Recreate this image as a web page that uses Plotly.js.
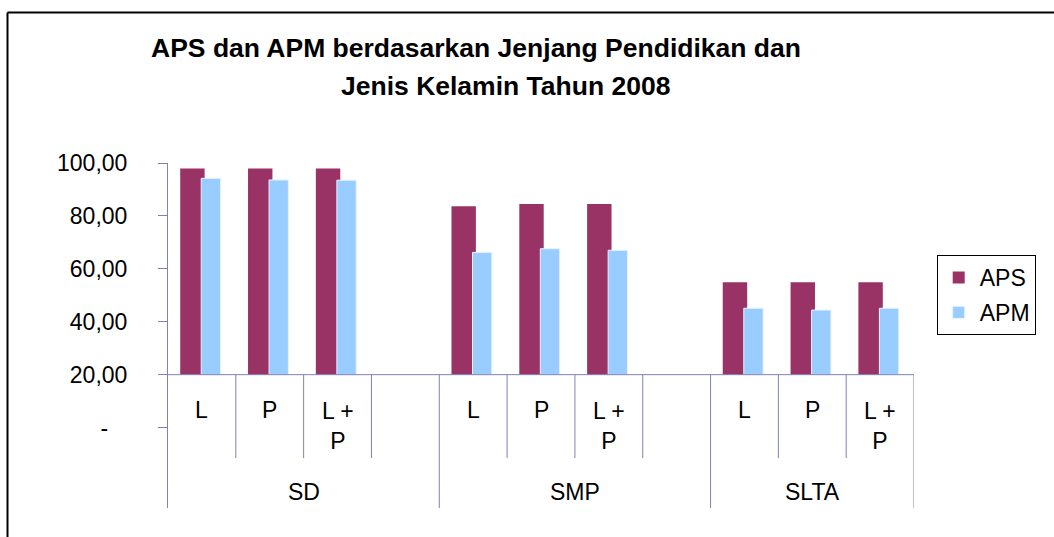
<!DOCTYPE html>
<html>
<head>
<meta charset="utf-8">
<script src="https://cdn.plot.ly/plotly-3.0.1.min.js"></script>
<style>
  html, body { margin: 0; padding: 0; background: #ffffff; }
  #chart { width: 1054px; height: 537px; }
</style>
</head>
<body>
<div id="chart"></div>
<script>
// ---- data ----
const titleLine1 = 'APS dan APM berdasarkan Jenjang Pendidikan dan';
const titleLine2 = 'Jenis Kelamin Tahun 2008';
const groups = ['SD', 'SMP', 'SLTA'];
const subLabels = ['L', 'P', 'L + P'];
const seriesNames = ['APS', 'APM'];
const APS = [97.9, 97.9, 97.9, 83.7, 84.5, 84.5, 54.9, 54.9, 54.9];
const APM = [94.2, 93.6, 93.5, 66.2, 67.6, 67.0, 45.1, 44.4, 45.1];
const yTickVals = [0, 20, 40, 60, 80, 100];
const yTickText = ['-\u00a0\u00a0\u00a0', '20,00', '40,00', '60,00', '80,00', '100,00'];
const axisCross = 20;   // category axis crosses the value axis at 20

// ---- layout helpers ----
const slotsPerGroup = subLabels.length + 1;           // one empty slot between groups
const nSlots = groups.length * slotsPerGroup - 1;     // 11
const slotX = [];
groups.forEach((g, gi) => subLabels.forEach((s, si) => slotX.push(gi * slotsPerGroup + si)));

const FONT = '"Liberation Sans", Arial, sans-serif';
const AXIS = '#8080b8';
const yMin = -30.4, yMax = 100;

const traces = [
  {
    type: 'bar', name: seriesNames[0], legendgroup: 'a',
    x: slotX, y: APS.map(v => v - axisCross), base: axisCross,
    offset: -0.32, width: 0.36,
    marker: { color: '#993366', line: { width: 0 } },
    hoverinfo: 'skip'
  },
  {
    type: 'bar', name: seriesNames[1], legendgroup: 'b',
    x: slotX, y: APM.map(v => v - axisCross), base: axisCross,
    offset: -0.01, width: 0.285,
    marker: { color: '#99ccff', line: { width: 1, color: '#e6f2ff' } },
    hoverinfo: 'skip'
  }
];

const shapes = [];
const annotations = [];
// horizontal category axis line at the crossing value
shapes.push({ type: 'line', xref: 'x', yref: 'y', x0: -0.5, x1: nSlots - 0.5, y0: axisCross, y1: axisCross,
  line: { color: AXIS, width: 1 } });
// dividers between categories
for (let b = 1; b <= nSlots; b++) {
  const xb = b - 0.5;
  const isGroupEdge = (b % slotsPerGroup === 0) || b === nSlots;
  shapes.push({ type: 'line', xref: 'x', yref: 'y', x0: xb, x1: xb, y0: axisCross,
    y1: isGroupEdge ? yMin : -11.5, line: { color: AXIS, width: 1 } });
}
// inner category labels
groups.forEach((g, gi) => subLabels.forEach((s, si) => {
  const two = s.indexOf('+') >= 0;
  annotations.push({ xref: 'x', yref: 'y', x: gi * slotsPerGroup + si, y: two ? 0.75 : 6.6,
    text: s.replace('+ ', '+<br>'), showarrow: false, xanchor: 'center', yanchor: 'middle',
    font: { family: FONT, size: 23, color: '#000' } });
}));
// group labels
groups.forEach((g, gi) => {
  const first = gi * slotsPerGroup - 0.5;
  const last = Math.min(first + slotsPerGroup, nSlots - 0.5);
  annotations.push({ xref: 'x', yref: 'y', x: (first + last) / 2, y: -24.2, text: g, showarrow: false,
    xanchor: 'center', yanchor: 'middle', font: { family: FONT, size: 23, color: '#000' } });
});
// second title line
annotations.push({ xref: 'paper', yref: 'paper', x: (505 - 168) / 746, y: (508 - 86.5) / 345,
  text: '<b>' + titleLine2 + '</b>', showarrow: false, xanchor: 'center', yanchor: 'middle',
  font: { family: FONT, size: 26.5, color: '#000' } });
// outer chart border (top and left visible)
shapes.push({ type: 'line', xref: 'paper', yref: 'paper', x0: (7.5 - 168) / 746, x1: 1.2,
  y0: (508 - 12.5) / 345, y1: (508 - 12.5) / 345, line: { color: '#000', width: 2 } });
shapes.push({ type: 'line', xref: 'paper', yref: 'paper', x0: (7.5 - 168) / 746, x1: (7.5 - 168) / 746,
  y0: (508 - 12.5) / 345, y1: -0.2, line: { color: '#000', width: 2 } });

const layout = {
  width: 1054, height: 537,
  margin: { l: 168, r: 140, t: 163, b: 29, pad: 0 },
  paper_bgcolor: '#ffffff', plot_bgcolor: 'rgba(0,0,0,0)',
  font: { family: FONT, size: 23, color: '#000' },
  title: { text: '<b>' + titleLine1 + '</b>', xref: 'container', yref: 'container',
    x: 476 / 1054, xanchor: 'center', y: 1 - 47.8 / 537, yanchor: 'middle',
    font: { family: FONT, size: 26.5, color: '#000' } },
  barmode: 'overlay',
  showlegend: true,
  legend: { x: (936.7 - 168) / 746, y: (508 - 255) / 345, xanchor: 'left', yanchor: 'top',
    bordercolor: '#000', borderwidth: 1, bgcolor: '#fff', traceorder: 'grouped', tracegroupgap: 2,
    itemwidth: 32,
    font: { family: FONT, size: 23, color: '#000' } },
  xaxis: { range: [-0.5, nSlots - 0.5], visible: false, showgrid: false, zeroline: false, fixedrange: true },
  yaxis: { range: [yMin, yMax], tickmode: 'array', tickvals: yTickVals, ticktext: yTickText,
    showline: true, linecolor: AXIS, linewidth: 1, ticks: 'outside', ticklen: 9, tickcolor: AXIS, tickwidth: 1,
    showgrid: false, zeroline: false, ticklabelstandoff: 26,
    tickfont: { family: FONT, size: 23, color: '#000' }, fixedrange: true },
  shapes: shapes,
  annotations: annotations
};

Plotly.newPlot('chart', traces, layout, { displayModeBar: false, staticPlot: true });
</script>
</body>
</html>
